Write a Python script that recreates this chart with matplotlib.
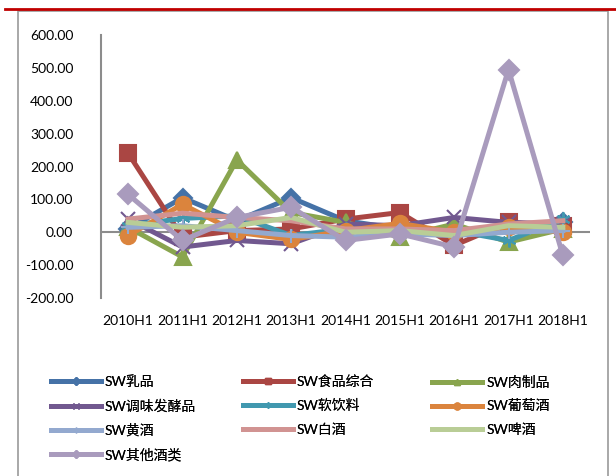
import matplotlib.pyplot as plt
from matplotlib.lines import Line2D
from matplotlib.patches import Rectangle

periods = ['2010H1', '2011H1', '2012H1', '2013H1', '2014H1',
           '2015H1', '2016H1', '2017H1', '2018H1']

# growth values
dairy = [10, 105, 35, 105, 35, 10, 5, 15, 30]
food_mix = [240, -15, 5, 10, 40, 60, -40, 30, 20]
meat = [15, -75, 220, 60, 30, -15, 25, -30, 10]
seasoning = [40, -45, -25, -35, 25, 20, 45, 30, 25]
soft_drink = [20, 42, 50, -10, 10, -5, 5, -25, 40]
wine = [-10, 85, 0, -22, 5, 27, 0, 15, 0]
yellow_wine = [15, 20, 5, -10, -15, -5, -10, 0, 5]
baijiu = [40, 58, 45, 35, 10, 10, 5, 25, 35]
beer = [30, 15, 20, 45, 0, 5, -10, 20, 15]
other_liquor = [115, -25, 45, 76, -25, -5, -45, 495, -70]

names = ['SW乳品', 'SW食品综合', 'SW肉制品', 'SW调味发酵品', 'SW软饮料',
         'SW葡萄酒', 'SW黄酒', 'SW白酒', 'SW啤酒', 'SW其他酒类']
series = [dairy, food_mix, meat, seasoning, soft_drink, wine,
          yellow_wine, baijiu, beer, other_liquor]
colors = ['#4572A7', '#AA4643', '#89A54E', '#71588F', '#4198AF',
          '#DB843D', '#93A9CF', '#D19392', '#B9CD96', '#A99BBD']
markers = ['D', 's', '^', 'x', (6, 2, 0), 'o', '+', 'None', 'None', 'D']
msizes = [9, 11, 11, 10, 10, 11, 10, 0, 0, 10]

plt.rcParams['font.family'] = ['Lato', 'Noto Sans CJK SC']

fig = plt.figure(figsize=(6.16, 4.76), dpi=100)
W, H = 616, 476

# outer frame and red rule on top
fig.add_artist(Rectangle((18 / W, -0.05), 590 / W, 1 - 11 / H + 0.05,
                         transform=fig.transFigure, fill=False,
                         edgecolor='#9a9a9a', linewidth=1.2))
fig.add_artist(Line2D([5 / W, 1], [1 - 9 / H, 1 - 9 / H],
                      transform=fig.transFigure, color='#C00000', linewidth=2))

ax = fig.add_axes([101 / W, 1 - 298 / H, 489 / W, 263 / H])
x = list(range(len(periods)))

ax.axhline(0, color='#8c8c8c', linewidth=1.5, zorder=1)
handles = []
for i, (name, vals) in enumerate(zip(names, series)):
    ax.plot(x, vals, color=colors[i], linewidth=3.6, marker=markers[i],
            markersize=msizes[i], markerfacecolor=colors[i],
            markeredgecolor=colors[i], markeredgewidth=1.5,
            zorder=2 + i, solid_joinstyle='miter')
    # smaller markers for the legend keys
    handles.append(Line2D([], [], color=colors[i], linewidth=3.6,
                          marker=markers[i], markersize=msizes[i] * 0.45,
                          markerfacecolor=colors[i], markeredgecolor=colors[i],
                          markeredgewidth=1, label=name))

ax.set_xlim(-0.5, 8.5)
ax.set_ylim(-200, 600)
ax.set_yticks(range(-200, 601, 100))
ax.set_yticklabels([f'{v:.2f}' for v in range(-200, 601, 100)])
ax.set_xticks(x)
ax.set_xticklabels(periods)
ax.tick_params(axis='y', length=0, pad=20, labelsize=10)
ax.tick_params(axis='x', length=0, pad=12, labelsize=10)
for s in ['top', 'right', 'bottom']:
    ax.spines[s].set_visible(False)
ax.spines['left'].set_color('#8c8c8c')
ax.spines['left'].set_linewidth(1.5)

# legend laid out row by row like the original, one legend per column
col_x = [38, 230, 420]
for c in range(3):
    hs = handles[c::3]
    leg = fig.legend(handles=hs, loc='upper left',
                     bbox_to_anchor=(col_x[c] / W, 1 - 363 / H),
                     frameon=False, fontsize=10, handlelength=3.6,
                     handletextpad=0.3, labelspacing=0.78)
    fig.add_artist(leg)

fig.savefig('out.png', dpi=100)
